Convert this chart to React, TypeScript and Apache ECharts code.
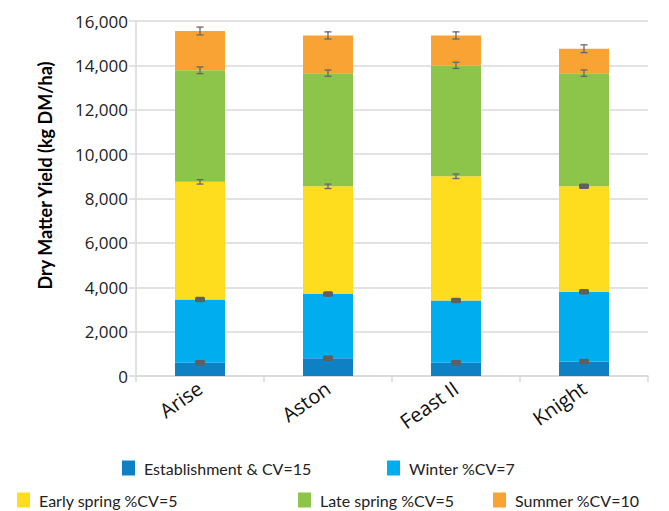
import React, { useEffect, useRef } from "react";
import * as echarts from "echarts";

const categories = ["Arise", "Aston", "Feast II", "Knight"];
const seriesNames = [
  "Establishment & CV=15",
  "Winter %CV=7",
  "Early spring %CV=5",
  "Late spring %CV=5",
  "Summer %CV=10",
];
const establishment = [600, 800, 600, 650];
const winter = [2850, 2900, 2800, 3150];
const earlySpring = [5300, 4850, 5600, 4750];
const lateSpring = [5030, 5100, 5000, 5100];
const summer = [1770, 1700, 1350, 1100];

const establishmentErr = [60, 60, 60, 60];
const winterErr = [60, 60, 60, 60];
const earlySpringErr = [100, 100, 100, 60];
const lateSpringErr = [150, 140, 140, 145];
const summerErr = [175, 160, 160, 175];

const yTicks = [0, 2000, 4000, 6000, 8000, 10000, 12000, 14000, 16000];

const colors = ["#0E80C4", "#00AEEF", "#FEDD1E", "#8DC54B", "#F8A333"];

const FONT = "Lato, 'Noto Sans', sans-serif";
const AXFONT = "'Open Sans', 'Noto Sans', sans-serif";

export default function App() {
  const ref = useRef<HTMLDivElement>(null);
  useEffect(() => {
    if (!ref.current) return;
    const chart = echarts.init(ref.current, undefined, { renderer: "svg" });
    const values = [establishment, winter, earlySpring, lateSpring, summer];
    const errs = [establishmentErr, winterErr, earlySpringErr, lateSpringErr, summerErr];
    const errData: number[][] = [];
    categories.forEach((_, i) => {
      let cum = 0;
      values.forEach((arr, s) => {
        cum += arr[i];
        errData.push([i, cum, errs[s][i]]);
      });
    });

    const barSeries = values.map((arr, s) => ({
      name: seriesNames[s],
      type: "bar",
      stack: "total",
      barWidth: 50,
      data: arr,
      itemStyle: { color: colors[s] },
    }));

    const legendPos = [
      { left: 122, top: 460 },
      { left: 387, top: 460 },
      { left: 17, top: 492 },
      { left: 298, top: 492 },
      { left: 493, top: 492 },
    ];
    const legends = seriesNames.map((n, s) => ({
      data: [n],
      left: legendPos[s].left,
      top: legendPos[s].top,
      padding: 0,
      itemWidth: 13,
      itemHeight: 15,
      itemGap: 0,
      textStyle: { fontSize: 16, color: "#222", fontFamily: FONT, padding: [0, 0, 0, 4] },
      icon: "rect",
      selectedMode: false,
    }));

    chart.setOption({
      animation: false,
      color: colors,
      grid: { left: 136, right: 21, top: 21, bottom: 135 },
      legend: legends,
      xAxis: {
        type: "category",
        data: categories,
        axisLine: { lineStyle: { color: "#D9D9D9", width: 1.5 } },
        axisTick: { show: true, length: 6, lineStyle: { color: "#D9D9D9", width: 1.5 } },
        axisLabel: {
          rotate: 35,
          fontSize: 20,
          color: "#111",
          fontFamily: AXFONT,
          margin: 10,
        },
      },
      yAxis: {
        type: "value",
        min: yTicks[0],
        max: yTicks[yTicks.length - 1],
        interval: 2000,
        name: "Dry Matter Yield (kg DM/ha)",
        nameLocation: "middle",
        nameGap: 82,
        nameTextStyle: { fontSize: 18, fontWeight: "bold", color: "#000", fontFamily: FONT, padding: [0, 0, 0, 46] },
        axisLine: { show: true, lineStyle: { color: "#D9D9D9", width: 1.5 } },
        axisTick: { show: true, length: 7, lineStyle: { color: "#D9D9D9", width: 1.5 } },
        splitLine: { lineStyle: { color: "#D9D9D9", width: 1.5 } },
        axisLabel: {
          fontSize: 17,
          color: "#222",
          fontFamily: AXFONT,
          margin: 8,
          formatter: (v: number) => v.toLocaleString("en-US"),
        },
      },
      series: [
        ...barSeries,
        {
          type: "custom",
          name: "errors",
          z: 10,
          data: errData,
          renderItem: (params: any, api: any) => {
            const x = api.value(0);
            const y = api.value(1);
            const e = api.value(2);
            const c = api.coord([x, y]);
            const h = api.size([0, e])[1];
            if (h < 1.8) {
              const hh = Math.max(5.5, 2 * h + 2);
              const bw = 5;
              return {
                type: "rect",
                shape: { x: c[0] - bw, y: c[1] - hh / 2, width: 2 * bw, height: hh, r: 1.5 },
                style: { fill: "#5F5F5F" },
              };
            }
            const w = 3.5;
            const style = { stroke: "#666", lineWidth: 1.3 };
            return {
              type: "group",
              children: [
                { type: "line", shape: { x1: c[0], y1: c[1] - h, x2: c[0], y2: c[1] + h }, style },
                { type: "line", shape: { x1: c[0] - w, y1: c[1] - h, x2: c[0] + w, y2: c[1] - h }, style },
                { type: "line", shape: { x1: c[0] - w, y1: c[1] + h, x2: c[0] + w, y2: c[1] + h }, style },
              ],
            };
          },
        },
      ],
    });
    return () => chart.dispose();
  }, []);
  return (
    <div
      ref={ref}
      style={{ position: "absolute", left: 0, top: 0, width: 669, height: 511, background: "#fff" }}
    />
  );
}
